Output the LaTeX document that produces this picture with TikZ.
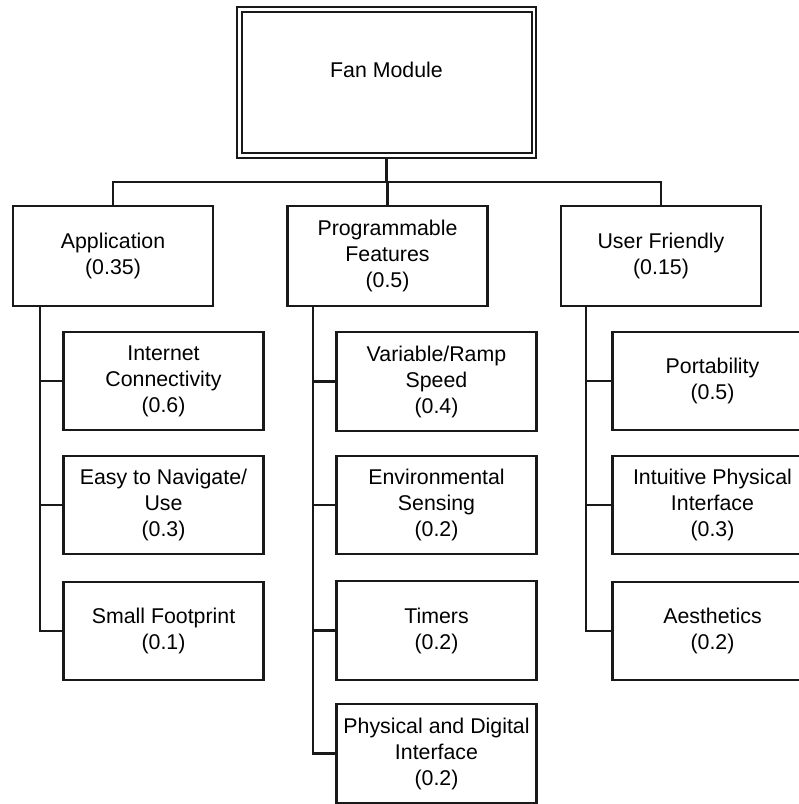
\documentclass[tikz,border=0pt]{standalone}
\usepackage{fontspec}
\setmainfont{Liberation Sans}
\usetikzlibrary{calc}
\begin{document}
\begin{tikzpicture}[x=0.75pt,y=-0.75pt,
  line width=1.6pt,
  every node/.style={font=\fontsize{16pt}{19.5pt}\selectfont, text=black},
  box/.style={draw=black!90, line width=1.6pt, rectangle, inner sep=0pt, align=center,
              minimum width=150pt},
  headbox/.style={box, minimum height=75pt},
  leafbox/.style={box, minimum height=74pt},
  wire/.style={draw=black!90, line width=1.6pt}
]
\useasboundingbox (0,0) rectangle (799,804);
\clip (0,0) rectangle (799,804);

% root
\node[box, minimum width=224.25pt, minimum height=113.25pt] (top) at (386.5,82.5) {};
\draw[black!90, line width=1.6pt] ($(top.north west)+(6,6)$) rectangle ($(top.south east)+(-5,-6)$);
\node (toptext) at (386.5,70) {Fan Module};

% level one
\node[headbox] (app) at (113,256)   {Application\\(0.35)};
\node[headbox] (pf)  at (387.5,256) {Programmable\\Features\\(0.5)};
\node[headbox] (uf)  at (661,256)   {User Friendly\\(0.15)};

% level two: application
\node[leafbox] (ic) at (163.5,381) {Internet\\Connectivity\\(0.6)};
\node[leafbox] (en) at (163.5,505) {Easy to Navigate/\\Use\\(0.3)};
\node[leafbox] (sf) at (163.5,631) {Small Footprint\\(0.1)};

% level two: programmable features
\node[leafbox] (vr) at (436.5,381.5) {Variable/Ramp\\Speed\\(0.4)};
\node[leafbox] (es) at (436.5,505)   {Environmental\\Sensing\\(0.2)};
\node[leafbox] (tm) at (436.5,630.5) {Timers\\(0.2)};
\node[leafbox] (pd) at (436.5,753.5) {Physical and Digital\\Interface\\(0.2)};

% level two: user friendly
\node[leafbox] (pt) at (712.5,381) {Portability\\(0.5)};
\node[leafbox] (ip) at (712.5,505) {Intuitive Physical\\Interface\\(0.3)};
\node[leafbox] (ae) at (712.5,631) {Aesthetics\\(0.2)};

% connectors root -> level one
\coordinate (bus) at (387.5,182);
\draw[wire] (top.south) -- (top.south |- bus);
\draw[wire] (app.north) |- (bus) -| (uf.north);
\draw[wire] (pf.north) -- (pf.north |- bus);

% connectors level one -> level two
\coordinate (appbus) at (40,306);
\coordinate (pfbus)  at (313,306);
\coordinate (ufbus)  at (586,306);
\foreach \c in {ic,en,sf} \draw[wire] (appbus) |- (\c.west);
\foreach \c in {vr,es,tm,pd} \draw[wire] (pfbus) |- (\c.west);
\foreach \c in {pt,ip,ae} \draw[wire] (ufbus) |- (\c.west);
\end{tikzpicture}
\end{document}
